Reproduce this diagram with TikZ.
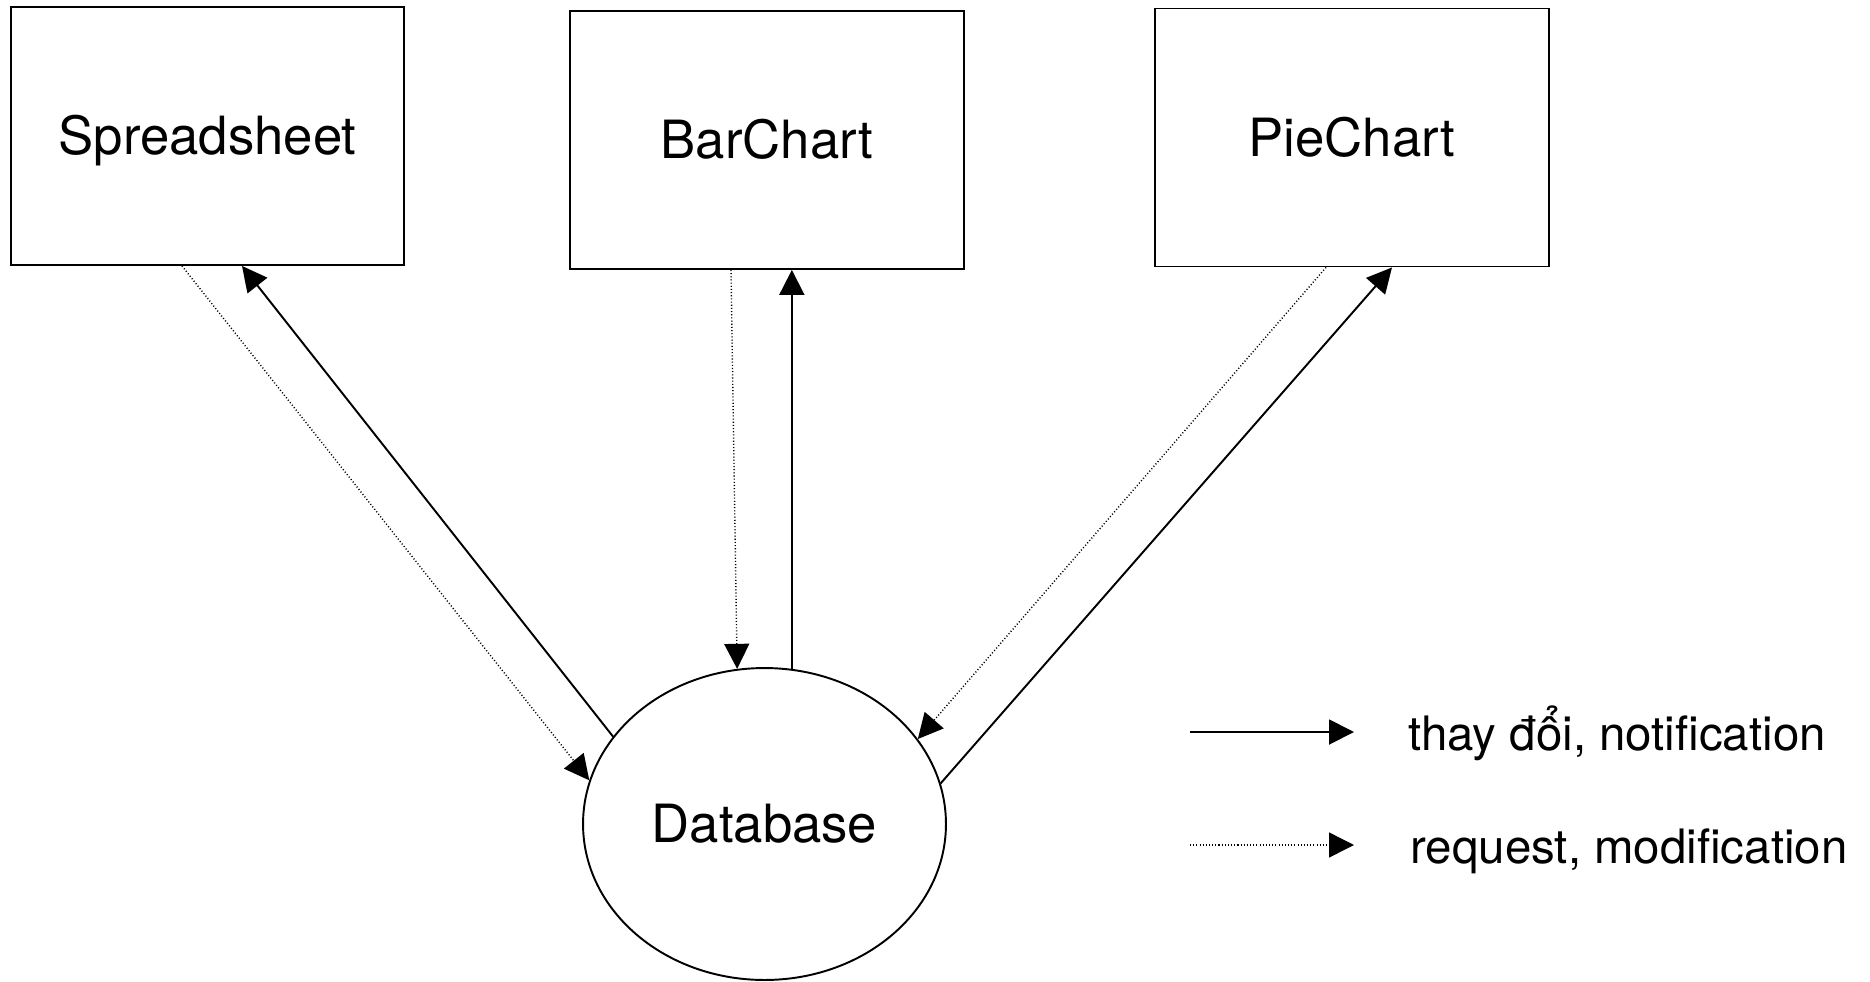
\documentclass[tikz,border=0pt]{standalone}
\usepackage{fontspec}
\setmainfont{TeX Gyre Heros}
\usetikzlibrary{arrows.meta,shapes.geometric}
\tikzset{mvpanel/.style={
  x=0.02cm, y=-0.02cm,
  view/.style={draw, line width=1.1pt, minimum width=7.86cm, minimum height=5.16cm, inner sep=0pt,
    text height=21.5pt, text depth=0pt, font=\fontsize{30}{36}\selectfont},
  store/.style={ellipse, draw, line width=1.1pt, minimum width=7.26cm, minimum height=6.24cm, inner sep=0pt,
    text height=21.5pt, text depth=0pt, font=\fontsize{30}{36}\selectfont},
  notify/.style={-{Triangle[length=0.5cm, width=0.5cm]}, line width=1.1pt},
  request/.style={-{Triangle[length=0.5cm, width=0.5cm]}, line width=0.8pt, dash pattern=on 0.6pt off 1.2pt},
  legtext/.style={anchor=base west, inner sep=0pt, font=\fontsize{27}{32}\selectfont},
}}

\begin{document}
\begin{tikzpicture}[mvpanel]
% =====================================================================
%  one model (Database), three views kept in sync
% =====================================================================
\useasboundingbox (0,0) rectangle (1870,981);

% ---- views ----
\node[view, minimum width=7.86cm] (sheet) at (207.5,136) {Spreadsheet};
\node[view, minimum width=7.88cm] (bar)   at (767,140)   {BarChart};
\node[view, minimum width=7.88cm] (pie)   at (1352,137.5) {PieChart};

% ---- model ----
\node[store] (db) at (764.5,824) {Database};

% ---- requests go up to the model, changes come back ----
\draw[request] ([xshift=-0.51cm]sheet.south) -- (db.166);
\draw[notify]  (db.150) -- ([xshift=0.69cm]sheet.south);

\draw[request] ([xshift=-0.72cm]bar.south) -- (db.100);
\draw[notify]  (db.80) -- (db.80 |- bar.south);

\draw[request] ([xshift=-0.52cm]pie.south) -- (db.29);
\draw[notify]  (db.13) -- ([xshift=0.8cm]pie.south);

% ---- legend ----
\coordinate (solidL) at (1190,732);
\coordinate (solidR) at (1354,732);
\coordinate (dotL)   at (1190,845);
\coordinate (dotR)   at (1354,845);
\draw[notify]  (solidL) -- (solidR);
\draw[request] (dotL) -- (dotR);
\node[legtext] (legNotify)  at (1408,750) {thay đổi, notification};
\node[legtext] (legRequest) at (1410,863) {request, modification};
\end{tikzpicture}
\end{document}
